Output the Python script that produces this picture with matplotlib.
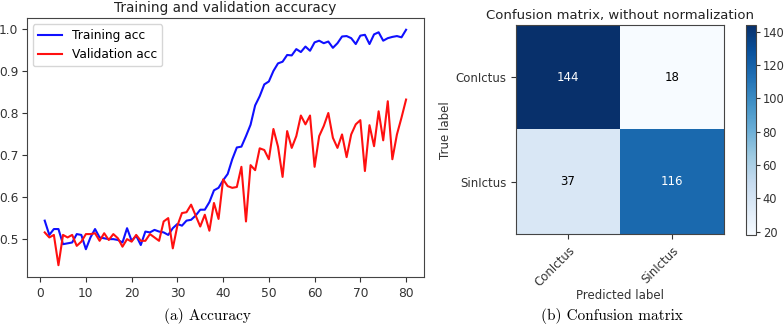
import numpy as np
import matplotlib
matplotlib.use("Agg")
import matplotlib.pyplot as plt

epochs = list(range(1, 81))
train_acc = [0.544, 0.510, 0.524, 0.524, 0.488, 0.490, 0.492, 0.512, 0.510, 0.476,
             0.504, 0.524, 0.504, 0.502, 0.500, 0.500, 0.498, 0.492, 0.526, 0.496,
             0.508, 0.486, 0.518, 0.516, 0.522, 0.518, 0.516, 0.510, 0.526, 0.536,
             0.532, 0.544, 0.546, 0.556, 0.570, 0.570, 0.588, 0.616, 0.622, 0.640,
             0.655, 0.690, 0.718, 0.720, 0.745, 0.772, 0.818, 0.840, 0.868, 0.875,
             0.900, 0.918, 0.922, 0.938, 0.937, 0.952, 0.945, 0.958, 0.948, 0.968,
             0.972, 0.966, 0.970, 0.955, 0.966, 0.982, 0.983, 0.978, 0.964, 0.984,
             0.986, 0.964, 0.987, 0.992, 0.972, 0.978, 0.981, 0.983, 0.980, 0.998]
val_acc = [0.516, 0.504, 0.510, 0.438, 0.510, 0.504, 0.510, 0.484, 0.494, 0.512,
           0.512, 0.514, 0.496, 0.514, 0.498, 0.512, 0.502, 0.482, 0.500, 0.494,
           0.510, 0.496, 0.496, 0.512, 0.504, 0.496, 0.542, 0.550, 0.478, 0.532,
           0.562, 0.564, 0.582, 0.556, 0.530, 0.558, 0.520, 0.586, 0.548, 0.642,
           0.626, 0.622, 0.624, 0.672, 0.542, 0.676, 0.664, 0.716, 0.712, 0.690,
           0.762, 0.720, 0.648, 0.757, 0.717, 0.745, 0.794, 0.773, 0.794, 0.672,
           0.745, 0.769, 0.800, 0.741, 0.717, 0.749, 0.695, 0.749, 0.773, 0.783,
           0.662, 0.771, 0.721, 0.804, 0.735, 0.828, 0.690, 0.749, 0.789, 0.832]

classes = ["ConIctus", "SinIctus"]
cm = np.array([[144, 18],
               [37, 116]])

fig = plt.figure(figsize=(7.84, 3.27), dpi=100)

fs = 8.8
# Left: accuracy curves
ax1 = fig.add_axes([0.034, 0.153, 0.507, 0.792])
ax1.plot(epochs, train_acc, color="#1010ff", lw=1.5, label="Training acc")
ax1.plot(epochs, val_acc, color="#ff1010", lw=1.5, label="Validation acc")
ax1.set_title("Training and validation accuracy", fontsize=9.8, pad=4, color="#222222")
ax1.set_xticks([0, 10, 20, 30, 40, 50, 60, 70, 80])
ax1.set_yticks([0.5, 0.6, 0.7, 0.8, 0.9, 1.0])
ax1.tick_params(labelsize=fs, colors="#333333")
ax1.tick_params(axis="y", pad=2.5)
ax1.legend(loc="upper left", fontsize=fs)
for s in ax1.spines.values():
    s.set_color("#444444")

# Right: confusion matrix
ax2 = fig.add_axes([0.658, 0.2835, 0.2657, 0.640])
im = ax2.imshow(cm, interpolation="nearest", cmap="Blues", aspect="auto")
ax2.set_title("Confusion matrix, without normalization", fontsize=9.5, pad=4, color="#222222")
ax2.set_xticks(np.arange(len(classes)))
ax2.set_yticks(np.arange(len(classes)))
ax2.set_xticklabels(classes, rotation=45, ha="right", rotation_mode="anchor")
ax2.set_yticklabels(classes)
ax2.tick_params(labelsize=8.5, colors="#333333")
ax2.set_ylabel("True label", fontsize=8.5, color="#333333", labelpad=2)
ax2.set_xlabel("Predicted label", fontsize=8.5, color="#333333", labelpad=0)
thresh = cm.max() / 2.0
for i in range(cm.shape[0]):
    for j in range(cm.shape[1]):
        ax2.text(j, i, format(cm[i, j], "d"), ha="center", va="center",
                 fontsize=8.5, color="white" if cm[i, j] > thresh else "black")
for s in ax2.spines.values():
    s.set_color("#444444")

cax = fig.add_axes([0.952, 0.281, 0.0128, 0.642])
cb = fig.colorbar(im, cax=cax, ticks=[20, 40, 60, 80, 100, 120, 140])
cb.ax.tick_params(labelsize=8.3, colors="#333333", pad=1.5, length=3)
cb.outline.set_edgecolor("#444444")

# Captions
cap_font = ["cmr10", "DejaVu Serif"]
fig.text(0.265, 0.008, "(a) Accuracy", ha="center", va="bottom", fontsize=11, family=cap_font)
fig.text(0.781, 0.008, "(b) Confusion matrix", ha="center", va="bottom", fontsize=11, family=cap_font)

fig.savefig("out.png", dpi=100)
